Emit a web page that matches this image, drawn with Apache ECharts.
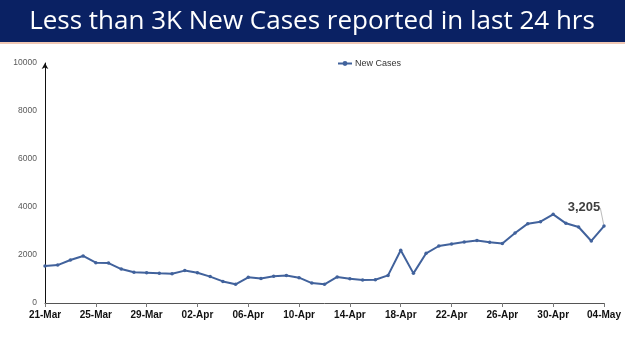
<!DOCTYPE html>
<html>
<head>
<meta charset="utf-8">
<script src="https://cdn.jsdelivr.net/npm/echarts@6/dist/echarts.min.js"></script>
<style>
html,body{margin:0;padding:0;background:#fff;}
#c{width:625px;height:351px;}
</style>
</head>
<body>
<div id="c"></div>
<script>
var titleText = 'Less than 3K New Cases reported in last 24 hrs';
var seriesName = 'New Cases';
var categories = ['21-Mar','22-Mar','23-Mar','24-Mar','25-Mar','26-Mar','27-Mar','28-Mar','29-Mar','30-Mar','31-Mar',
  '01-Apr','02-Apr','03-Apr','04-Apr','05-Apr','06-Apr','07-Apr','08-Apr','09-Apr','10-Apr','11-Apr','12-Apr','13-Apr',
  '14-Apr','15-Apr','16-Apr','17-Apr','18-Apr','19-Apr','20-Apr','21-Apr','22-Apr','23-Apr','24-Apr','25-Apr','26-Apr',
  '27-Apr','28-Apr','29-Apr','30-Apr','01-May','02-May','03-May','04-May'];
var newCases = [1540,1580,1790,1960,1680,1665,1415,1280,1265,1235,1220,
  1350,1260,1100,900,780,1070,1025,1110,1150,1055,830,780,1085,
  1015,960,970,1150,2195,1235,2070,2375,2460,2540,2600,2530,2475,
  2915,3305,3390,3695,3320,3165,2585,3205];
var yMax = 10000, yInterval = 2000;

var chart = echarts.init(document.getElementById('c'), null, {renderer:'canvas'});
var lastIdx = newCases.length - 1;
var dataItems = newCases.map(function(v, i){
  if (i === lastIdx) {
    return {value: v, label: {show: true}, labelLine: {show: true}};
  }
  return v;
});
chart.setOption({
  animation: false,
  backgroundColor: '#ffffff',
  graphic: [
    {type:'rect', left:0, top:0, shape:{width:625, height:42}, style:{fill:'#0a2163'}, z:10},
    {type:'rect', left:0, top:42, shape:{width:625, height:2}, style:{fill:'#f0c8b4'}, z:10},
    {type:'text', x:312, y:22, style:{text: titleText, fill:'#ffffff', font:'26px "Open Sans"', align:'center', verticalAlign:'middle'}, z:11}
  ],
  legend: {
    data: [seriesName],
    left: 332, top: 54,
    itemWidth: 14, itemHeight: 6, itemGap: 4,
    textStyle: {fontSize: 9, color: '#333', fontFamily: 'Liberation Sans', padding: [0,0,0,-2]}
  },
  grid: {left: 45, right: 21, top: 63, bottom: 48, containLabel: false},
  xAxis: {
    type: 'category', data: categories, boundaryGap: false,
    axisLine: {lineStyle: {color: '#555', width: 1}},
    axisTick: {show: true, interval: 3, length: 4, lineStyle: {color: '#777'}},
    axisLabel: {interval: 3, color: '#111', fontWeight: 'bold', fontSize: 10, fontFamily: 'Liberation Sans', margin: 7},
    splitLine: {show: false}
  },
  yAxis: {
    type: 'value', min: 0, max: yMax, interval: yInterval,
    axisLine: {show: true, lineStyle: {color: '#111', width: 1}, symbol: ['none','arrow'], symbolSize: [5,6]},
    axisTick: {show: false},
    axisLabel: {color: '#595959', fontSize: 8.5, fontFamily: 'Liberation Sans', margin: 8,
      formatter: function(v){ return String(v); }},
    splitLine: {show: false}
  },
  series: [{
    name: seriesName, type: 'line', data: dataItems,
    symbol: 'circle', symbolSize: 3.5,
    lineStyle: {color: '#41629c', width: 2},
    itemStyle: {color: '#41629c'},
    label: {show: false, position: 'top', fontSize: 13, fontWeight: 'bold', color: '#404040', fontFamily: 'Liberation Sans',
      formatter: function(p){ return p.value.toLocaleString('en-US'); }},
    labelLine: {show: false, lineStyle: {color: '#bbb', width: 1}},
    labelLayout: {dx: -20, dy: -5}
  }]
});
</script>
</body>
</html>
